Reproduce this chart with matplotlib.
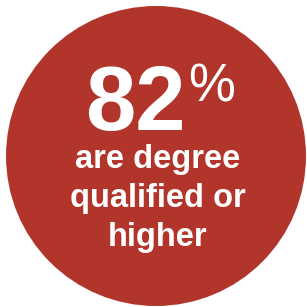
import matplotlib
matplotlib.use("Agg")
import matplotlib.pyplot as plt
from matplotlib.patches import Circle

# Chart content
stat_value = "82"
stat_unit = "%"
caption_lines = ["are degree", "qualified or", "higher"]
circle_color = "#b2352b"

fig = plt.figure(figsize=(3.07, 3.07), dpi=100)
ax = fig.add_axes([0, 0, 1, 1])
ax.set_xlim(0, 307)
ax.set_ylim(307, 0)
ax.axis("off")

ax.add_patch(Circle((156, 156), 150, color=circle_color, lw=0))

font = "Liberation Sans"
ax.text(135, 130, stat_value, color="white", fontsize=65, fontweight="bold",
        family=font, ha="center", va="baseline")
ax.text(212, 102, stat_unit, color="white", fontsize=38,
        family=font, ha="center", va="baseline")

baselines = [168, 207, 246]
for line, y in zip(caption_lines, baselines):
    ax.text(158, y, line, color="white", fontsize=23.5, fontweight="bold",
            family=font, ha="center", va="baseline")

fig.savefig("out.png", dpi=100, facecolor="white")
